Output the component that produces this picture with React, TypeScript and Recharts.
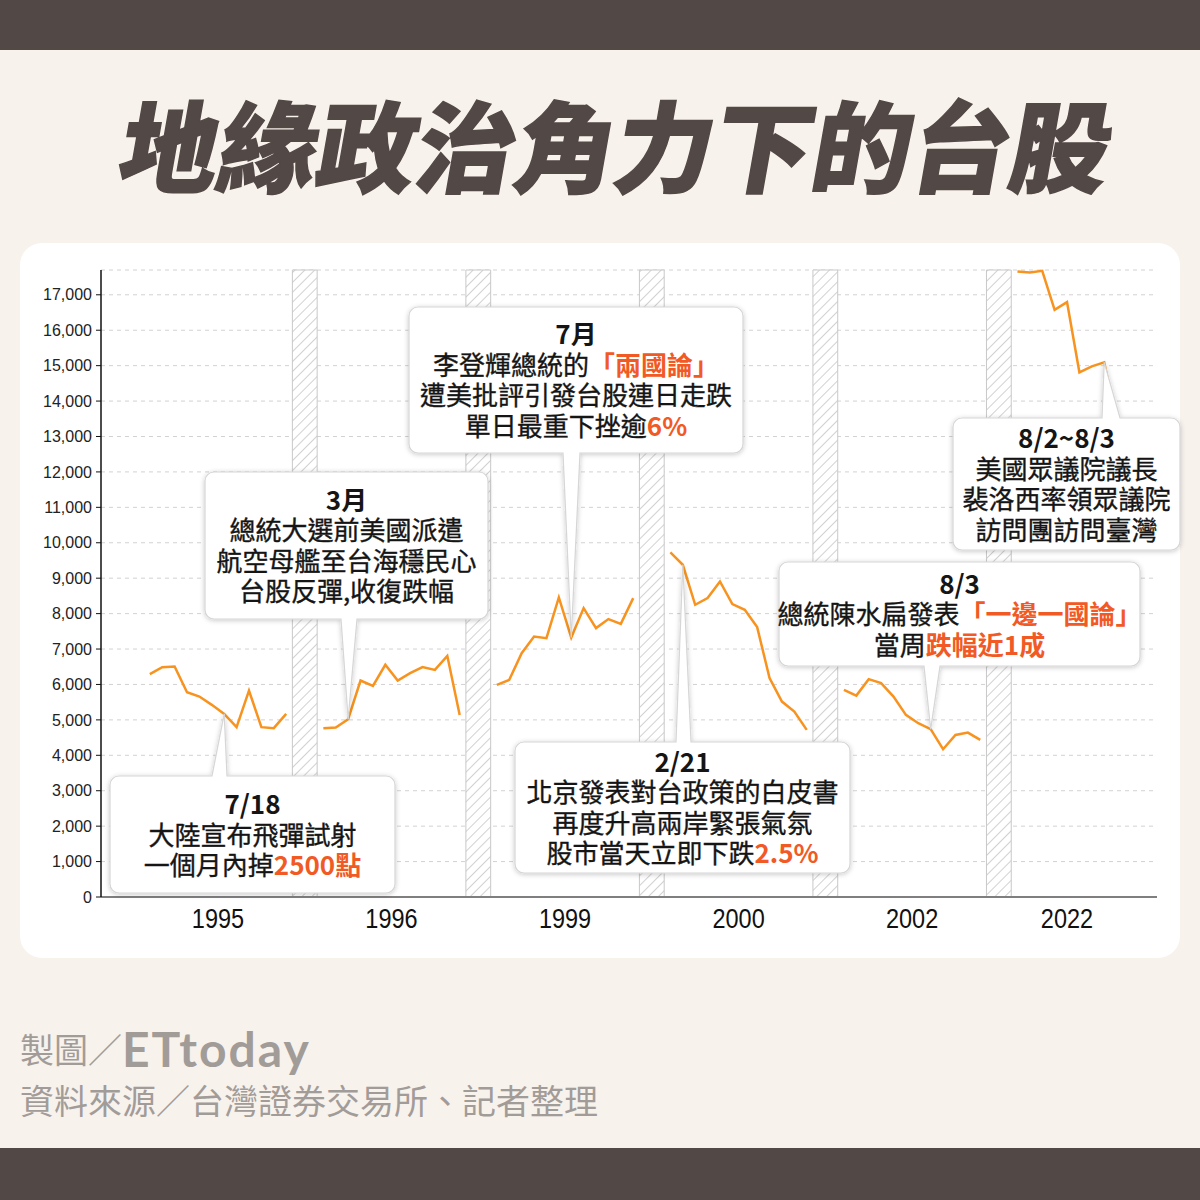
import React from 'react';
import {
  LineChart,
  Line,
  XAxis,
  YAxis,
  CartesianGrid,
  ReferenceArea,
  ReferenceDot,
} from 'recharts';

// TAIEX monthly closes
const years = ['1995', '1996', '1999', '2000', '2002', '2022'];
const taiex1995 = [6291, 6489, 6506, 5782, 5658, 5424, 5169, 4794, 5828, 4794, 4766, 5169];
const taiex1996 = [4766, 4783, 5020, 6110, 5960, 6554, 6110, 6319, 6489, 6412, 6808, 5141];
const taiex1999 = [5989, 6130, 6884, 7353, 7308, 8455, 7325, 8155, 7590, 7845, 7712, 8438];
const taiex2000 = [9726, 9379, 8249, 8438, 8907, 8269, 8107, 7619, 6178, 5517, 5234, 4718];
const taiex2002 = [5847, 5686, 6150, 6037, 5658, 5141, 4907, 4737, 4172, 4576, 4641, 4435];
const taiex2022 = [17656, 17628, 17676, 16577, 16794, 14811, 14980, 15093, 13425];
const yTicks = [0, 1000, 2000, 3000, 4000, 5000, 6000, 7000, 8000, 9000, 10000, 11000, 12000, 13000, 14000, 15000, 16000, 17000];

const series = [taiex1995, taiex1996, taiex1999, taiex2000, taiex2002, taiex2022];

// each year gets 14 slots on the x axis: 12 months + 2 for the hatched break
const SLOTS = 14;

const chartData: { x: number; close: number | null }[] = [];
series.forEach((vals, g) => {
  vals.forEach((v, i) => chartData.push({ x: g * SLOTS + i, close: v }));
  if (g < series.length - 1) chartData.push({ x: g * SLOTS + 12.5, close: null });
});

const yearTicks = series.map((vals, g) => g * SLOTS + (vals.length - 1) / 2);
const breaks = series.slice(0, -1).map((_, g) => [g * SLOTS + 11.5, g * SLOTS + 13.5]);

type Seg = string | { hl: string };

interface CalloutCfg {
  group: number;
  month: number;
  box: [number, number, number, number];
  side: 'top' | 'bottom';
  base: [number, number];
  lines: Seg[][];
}

const callouts: CalloutCfg[] = [
  {
    group: 0, month: 6, box: [110, 776, 285, 117], side: 'top', base: [212, 227],
    lines: [['7/18'], ['大陸宣布飛彈試射'], ['一個月內掉', { hl: '2500點' }]],
  },
  {
    group: 1, month: 2, box: [205, 472, 283, 147], side: 'bottom', base: [341, 357],
    lines: [['3月'], ['總統大選前美國派遣'], ['航空母艦至台海穩民心'], ['台股反彈,收復跌幅']],
  },
  {
    group: 2, month: 6, box: [409, 307, 334, 146], side: 'bottom', base: [563, 580],
    lines: [['7月'], ['李登輝總統的', { hl: '「兩國論」' }], ['遭美批評引發台股連日走跌'], ['單日最重下挫逾', { hl: '6%' }]],
  },
  {
    group: 3, month: 1, box: [515, 742, 335, 131], side: 'top', base: [676, 691],
    lines: [['2/21'], ['北京發表對台政策的白皮書'], ['再度升高兩岸緊張氣氛'], ['股市當天立即下跌', { hl: '2.5%' }]],
  },
  {
    group: 4, month: 7, box: [779, 562, 361, 104], side: 'bottom', base: [924, 940],
    lines: [['8/3'], ['總統陳水扁發表', { hl: '「一邊一國論」' }], ['當周', { hl: '跌幅近1成' }]],
  },
  {
    group: 5, month: 7, box: [953, 418, 227, 132], side: 'top', base: [1102, 1120],
    lines: [['8/2~8/3'], ['美國眾議院議長'], ['裴洛西率領眾議院'], ['訪問團訪問臺灣']],
  },
];

const CJK = '"Noto Sans CJK TC", "Noto Sans CJK SC", sans-serif';
const ORANGE = '#f7931e';
const HILITE = '#f15a24';
const INK = '#151515';

function calloutPath(c: CalloutCfg, tx: number, ty: number) {
  const [x, y, w, h] = c.box;
  const r = 9;
  const [b1, b2] = c.base;
  const top =
    c.side === 'top'
      ? `H ${b1} L ${tx} ${ty} L ${b2} ${y} H ${x + w - r}`
      : `H ${x + w - r}`;
  const bottom =
    c.side === 'bottom'
      ? `H ${b2} L ${tx} ${ty} L ${b1} ${y + h} H ${x + r}`
      : `H ${x + r}`;
  return [
    `M ${x + r} ${y}`,
    top,
    `A ${r} ${r} 0 0 1 ${x + w} ${y + r}`,
    `V ${y + h - r}`,
    `A ${r} ${r} 0 0 1 ${x + w - r} ${y + h}`,
    bottom,
    `A ${r} ${r} 0 0 1 ${x} ${y + h - r}`,
    `V ${y + r}`,
    `A ${r} ${r} 0 0 1 ${x + r} ${y}`,
    'Z',
  ].join(' ');
}

const Callout = ({ cx, cy, cfg }: any) => {
  const [x, y, w, h] = cfg.box;
  const pitch = 30.5;
  const midY = y + h / 2;
  const n = cfg.lines.length;
  return (
    <g>
      <path
        d={calloutPath(cfg, cx, cy)}
        fill="#fff"
        stroke="#d6d6d6"
        strokeWidth={1.2}
        filter="url(#boxShadow)"
      />
      {cfg.lines.map((segs: Seg[], k: number) => (
        <text
          key={k}
          x={x + w / 2}
          y={midY + (k - (n - 1) / 2) * pitch + 10}
          textAnchor="middle"
          fontFamily={CJK}
          fontSize={26}
          fontWeight={k === 0 ? 700 : 400}
          fill={INK}
          stroke={k === 0 ? 'none' : INK}
          strokeWidth={0.35}
        >
          {segs.map((s, j) =>
            typeof s === 'string' ? (
              <tspan key={j}>{s}</tspan>
            ) : (
              <tspan key={j} fill={HILITE} stroke="none" fontWeight={700}>
                {s.hl}
              </tspan>
            )
          )}
        </text>
      ))}
    </g>
  );
};

// condensed year labels under the x axis
const YearTick = ({ x, y, payload, index }: any) => (
  <g transform={`translate(${x},${y})`}>
    <text
      transform="scale(0.84,1)"
      x={0}
      y={0}
      dy="0.71em"
      textAnchor="middle"
      fontSize={28}
      fill="#111"
      fontFamily='"Liberation Sans", Arial, sans-serif'
    >
      {years[index] ?? payload.value}
    </text>
  </g>
);

export default function App() {
  return (
    <div
      style={{
        position: 'absolute',
        left: 0,
        top: 0,
        width: 1200,
        height: 1200,
        background: '#f8f2ed',
        overflow: 'hidden',
      }}
    >
      <div style={{ position: 'absolute', left: 0, top: 0, width: 1200, height: 50, background: '#524845' }} />
      <div style={{ position: 'absolute', left: 0, top: 1148, width: 1200, height: 52, background: '#524845' }} />

      <div
        style={{
          position: 'absolute',
          left: 17,
          top: 93,
          width: 1200,
          textAlign: 'center',
          fontFamily: CJK,
          fontWeight: 900,
          fontSize: 99,
          lineHeight: '99px',
          color: '#524845',
          WebkitTextStroke: '1.5px #524845',
          transform: 'skewX(-10deg)',
          whiteSpace: 'nowrap',
        }}
      >
        地緣政治角力下的台股
      </div>

      <div
        style={{
          position: 'absolute',
          left: 20,
          top: 243,
          width: 1160,
          height: 715,
          background: '#fff',
          borderRadius: 22,
        }}
      />

      <div style={{ position: 'absolute', left: 0, top: 0 }}>
        <LineChart
          width={1200}
          height={960}
          data={chartData}
          margin={{ top: 270, right: 43, bottom: 33, left: 41 }}
        >
          <defs>
            <pattern
              id="hatch"
              patternUnits="userSpaceOnUse"
              width={7}
              height={7}
              patternTransform="rotate(45)"
            >
              <rect width={7} height={7} fill="#fff" />
              <line x1={0} y1={0} x2={0} y2={7} stroke="#c6c6c6" strokeWidth={1.6} />
            </pattern>
            <filter id="boxShadow" x="-10%" y="-20%" width="120%" height="140%">
              <feDropShadow dx={0} dy={1} stdDeviation={2.5} floodColor="#000" floodOpacity={0.22} />
            </filter>
          </defs>
          <CartesianGrid vertical={false} stroke="#d2d2d2" strokeDasharray="4 4" />
          {breaks.map(([x1, x2], i) => (
            <ReferenceArea
              key={i}
              x1={x1}
              x2={x2}
              fill="url(#hatch)"
              fillOpacity={1}
              stroke="#c8c8c8"
              strokeWidth={1}
            />
          ))}
          <XAxis
            type="number"
            dataKey="x"
            domain={[-3.94, 81.26]}
            ticks={yearTicks}
            interval={0}
            tickLine={false}
            tickSize={6}
            tickMargin={5}
            height={30}
            axisLine={{ stroke: '#7f7f7f', strokeWidth: 2 }}
            tick={<YearTick />}
          />
          <YAxis
            type="number"
            domain={[0, 17700]}
            ticks={yTicks}
            interval={0}
            width={60}
            tickSize={5}
            tickMargin={4}
            tickFormatter={(v: number) => v.toLocaleString('en-US')}
            axisLine={{ stroke: '#111', strokeWidth: 1.5 }}
            tickLine={{ stroke: '#111' }}
            tick={{ fontSize: 16, fill: '#222', fontFamily: '"Liberation Sans", Arial, sans-serif' }}
          />
          <Line
            type="linear"
            dataKey="close"
            stroke={ORANGE}
            strokeWidth={2.5}
            dot={false}
            activeDot={false}
            connectNulls={false}
            isAnimationActive={false}
          />
          {callouts.map((c, i) => (
            <ReferenceDot
              key={i}
              x={c.group * SLOTS + c.month}
              y={series[c.group][c.month]}
              r={0}
              zIndex={1500}
              shape={(p: any) => <Callout {...p} cfg={c} />}
            />
          ))}
        </LineChart>
      </div>

      <div
        style={{
          position: 'absolute',
          left: 20,
          top: 1027,
          fontFamily: CJK,
          fontSize: 34,
          lineHeight: '44px',
          color: '#a29c99',
          whiteSpace: 'nowrap',
        }}
      >
        製圖／
        <span
          style={{
            fontFamily: 'Lato, "Noto Sans", sans-serif',
            fontWeight: 700,
            fontSize: 48,
            letterSpacing: 2,
            verticalAlign: 'top',
            lineHeight: '44px',
          }}
        >
          ETtoday
        </span>
      </div>
      <div
        style={{
          position: 'absolute',
          left: 20,
          top: 1078,
          fontFamily: CJK,
          fontSize: 34,
          lineHeight: '44px',
          color: '#a29c99',
          whiteSpace: 'nowrap',
        }}
      >
        資料來源／台灣證券交易所、記者整理
      </div>
    </div>
  );
}
